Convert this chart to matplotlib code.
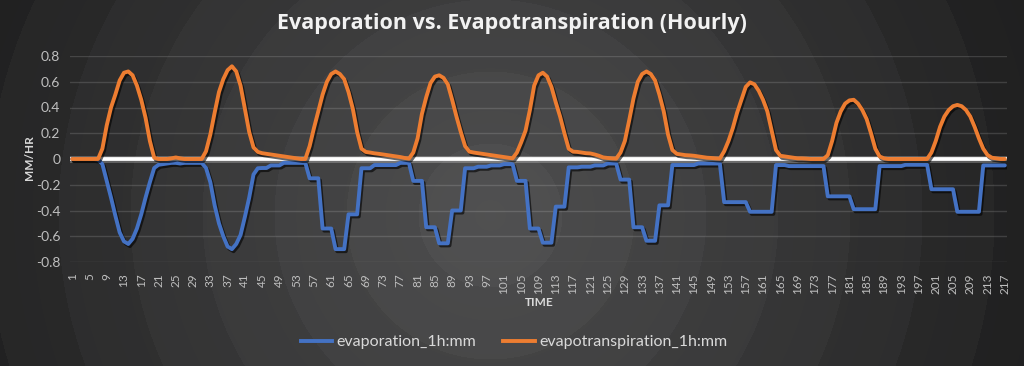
import numpy as np
import matplotlib
matplotlib.use("Agg")
import matplotlib.pyplot as plt
from matplotlib import patheffects as pe
from matplotlib.lines import Line2D

# ---------------- data ----------------
hours = list(range(1, 218))

evapotranspiration = [
    0, 0, 0, 0, 0, 0, 0, 0.08, 0.26, 0.40, 0.50, 0.61, 0.67, 0.68, 0.65, 0.57, 0.46, 0.32, 0.14, 0.01, 0, 0, 0, 0.005,
    0.012, 0.005, 0, 0, 0, 0, 0, 0.06, 0.19, 0.36, 0.52, 0.62, 0.69, 0.72, 0.68, 0.57, 0.39, 0.21, 0.09, 0.055, 0.045, 0.04, 0.035, 0.03,
    0.025, 0.02, 0.015, 0.01, 0.005, 0, 0, 0.10, 0.24, 0.37, 0.50, 0.60, 0.66, 0.68, 0.66, 0.62, 0.52, 0.39, 0.21, 0.08, 0.055, 0.05, 0.044, 0.04,
    0.035, 0.03, 0.025, 0.02, 0.015, 0.008, 0.003, 0.05, 0.16, 0.35, 0.48, 0.59, 0.64, 0.65, 0.63, 0.58, 0.46, 0.33, 0.21, 0.10, 0.057, 0.05, 0.045, 0.04,
    0.035, 0.03, 0.025, 0.02, 0.015, 0.01, 0.005, 0.05, 0.13, 0.22, 0.38, 0.57, 0.65, 0.67, 0.64, 0.56, 0.44, 0.33, 0.20, 0.08, 0.057, 0.055, 0.05, 0.045,
    0.043, 0.035, 0.025, 0.012, 0.008, 0.005, 0.003, 0.05, 0.14, 0.30, 0.47, 0.60, 0.66, 0.68, 0.66, 0.61, 0.50, 0.37, 0.19, 0.07, 0.04, 0.035, 0.03, 0.028,
    0.025, 0.02, 0.015, 0.01, 0.008, 0.005, 0.003, 0.06, 0.14, 0.24, 0.36, 0.46, 0.56, 0.595, 0.58, 0.53, 0.46, 0.37, 0.22, 0.07, 0.025, 0.02, 0.015, 0.01,
    0.005, 0.005, 0.003, 0, 0, 0, 0, 0.03, 0.14, 0.28, 0.37, 0.43, 0.455, 0.46, 0.43, 0.38, 0.31, 0.20, 0.08, 0.02, 0.005, 0, 0, 0,
    0, 0, 0, 0, 0, 0, 0, 0.05, 0.14, 0.25, 0.33, 0.38, 0.41, 0.42, 0.41, 0.38, 0.33, 0.25, 0.16, 0.08, 0.03, 0.01, 0.005, 0, 0,
]

evaporation = [
    0, 0, 0, 0, 0, 0, -0.005, -0.04, -0.17, -0.30, -0.44, -0.57, -0.64, -0.66, -0.62, -0.54, -0.43, -0.30, -0.18, -0.07, -0.045, -0.04, -0.035, -0.03,
    -0.03, -0.035, -0.03, -0.03, -0.03, -0.03, -0.03, -0.07, -0.18, -0.36, -0.50, -0.60, -0.68, -0.70, -0.66, -0.59, -0.45, -0.30, -0.12, -0.072, -0.07, -0.07, -0.05, -0.05,
    -0.05, -0.03, -0.03, -0.03, -0.03, -0.03, -0.03, -0.15, -0.15, -0.15, -0.54, -0.54, -0.54, -0.70, -0.70, -0.70, -0.43, -0.43, -0.43, -0.072, -0.072, -0.072, -0.047, -0.047,
    -0.047, -0.047, -0.047, -0.047, -0.03, -0.03, -0.03, -0.17, -0.17, -0.17, -0.53, -0.53, -0.53, -0.655, -0.655, -0.655, -0.40, -0.40, -0.40, -0.072, -0.072, -0.072, -0.06, -0.06,
    -0.06, -0.05, -0.05, -0.05, -0.04, -0.04, -0.04, -0.17, -0.17, -0.17, -0.54, -0.54, -0.54, -0.65, -0.65, -0.65, -0.37, -0.37, -0.37, -0.065, -0.065, -0.065, -0.06, -0.06,
    -0.06, -0.05, -0.05, -0.05, -0.035, -0.035, -0.035, -0.16, -0.16, -0.16, -0.53, -0.53, -0.53, -0.635, -0.635, -0.635, -0.36, -0.36, -0.36, -0.047, -0.047, -0.047, -0.047, -0.047,
    -0.047, -0.035, -0.035, -0.035, -0.035, -0.035, -0.035, -0.335, -0.335, -0.335, -0.335, -0.335, -0.335, -0.41, -0.41, -0.41, -0.41, -0.41, -0.41, -0.047, -0.047, -0.047, -0.055, -0.055,
    -0.055, -0.055, -0.055, -0.055, -0.055, -0.055, -0.055, -0.29, -0.29, -0.29, -0.29, -0.29, -0.29, -0.39, -0.39, -0.39, -0.39, -0.39, -0.39, -0.055, -0.055, -0.055, -0.055, -0.055,
    -0.055, -0.045, -0.045, -0.045, -0.045, -0.045, -0.045, -0.235, -0.235, -0.235, -0.235, -0.235, -0.235, -0.41, -0.41, -0.41, -0.41, -0.41, -0.41, -0.05, -0.05, -0.05, -0.05, -0.05, -0.05,
]

x_ticks = list(range(1, 218, 4))
x_tick_labels = [str(v) for v in x_ticks]
y_ticks = [-0.8, -0.6, -0.4, -0.2, 0, 0.2, 0.4, 0.6, 0.8]
y_tick_labels = ["-0.8", "-0.6", "-0.4", "-0.2", "0", "0.2", "0.4", "0.6", "0.8"]

title = "Evaporation vs. Evapotranspiration (Hourly)"
series_names = ["evaporation_1h:mm", "evapotranspiration_1h:mm"]
colors = ["#4472c4", "#ed7d31"]

# ---------------- figure ----------------
plt.rcParams["font.family"] = ["Lato", "DejaVu Sans"]
W, H = 1024, 366
fig = plt.figure(figsize=(W / 100, H / 100), dpi=100)

# radial banded background
bg = fig.add_axes([0, 0, 1, 1], zorder=-10)
yy, xx = np.mgrid[0:H, 0:W]
r = np.hypot(xx - 490, yy - 215)
band = np.floor(r / 72)
shade = np.clip(0.315 - band * 0.026 - (r % 72) / 72 * 0.006, 0.12, 1)
img = np.dstack([shade, shade, shade * 1.01])
img = np.clip(img, 0, 1)
bg.imshow(img, extent=[0, W, H, 0], aspect="auto", interpolation="bilinear")
bg.set_xlim(0, W)
bg.set_ylim(H, 0)
bg.axis("off")

ax = fig.add_axes([70 / W, 1 - 262 / H, 937 / W, 206 / H])
ax.patch.set_alpha(0)
ax.set_xlim(0.5, 217.5)
ax.set_ylim(-0.8, 0.8)

for s in ax.spines.values():
    s.set_visible(False)

ax.set_yticks(y_ticks)
ax.set_yticklabels(y_tick_labels)
ax.set_xticks(x_ticks)
ax.set_xticklabels(x_tick_labels, rotation=90)
ax.tick_params(axis="y", length=0, pad=7, labelsize=10, labelcolor="#bfbfbf")
ax.tick_params(axis="x", length=0, pad=8, labelsize=8.5, labelcolor="#bfbfbf")

for yv in y_ticks:
    if yv != 0:
        ax.axhline(yv, color="#ffffff", alpha=0.14, lw=1.0, zorder=1)

ax.axhline(0, color="white", lw=2.7, zorder=2,
           path_effects=[pe.SimpleLineShadow(offset=(0, 0), shadow_color="white", alpha=0.25, linewidth=5), pe.Normal()])

shadow = [pe.SimpleLineShadow(offset=(1.2, -1.5), shadow_color="black", alpha=0.6), pe.Normal()]
ax.plot(hours, evaporation, color=colors[0], lw=2.8, solid_joinstyle="round", solid_capstyle="round",
        zorder=3, path_effects=shadow)
ax.plot(hours, evapotranspiration, color=colors[1], lw=2.8, solid_joinstyle="round", solid_capstyle="round",
        zorder=4, path_effects=shadow)

fig.text(0.5, 1 - 23 / H, title, ha="center", va="center", fontsize=15.5, fontweight="bold",
         color="#f2f2f2", family=["Open Sans", "DejaVu Sans"])
fig.text(30 / W, 1 - 158 / H, "MM/HR", rotation=90, ha="center", va="center", fontsize=8.5,
         fontweight="bold", color="#d9d9d9")
fig.text(539 / W, 1 - 303 / H, "TIME", ha="center", va="center", fontsize=8.5,
         fontweight="bold", color="#d9d9d9")

handles = [Line2D([0], [0], color=c, lw=2.8) for c in colors]
fig.legend(handles, series_names, loc="center", bbox_to_anchor=(514 / W, 1 - 342 / H), ncol=2,
           frameon=False, fontsize=11.5, labelcolor="#d9d9d9", handlelength=2.0,
           handletextpad=0.25, columnspacing=1.7)

fig.savefig("out.png", dpi=100)
